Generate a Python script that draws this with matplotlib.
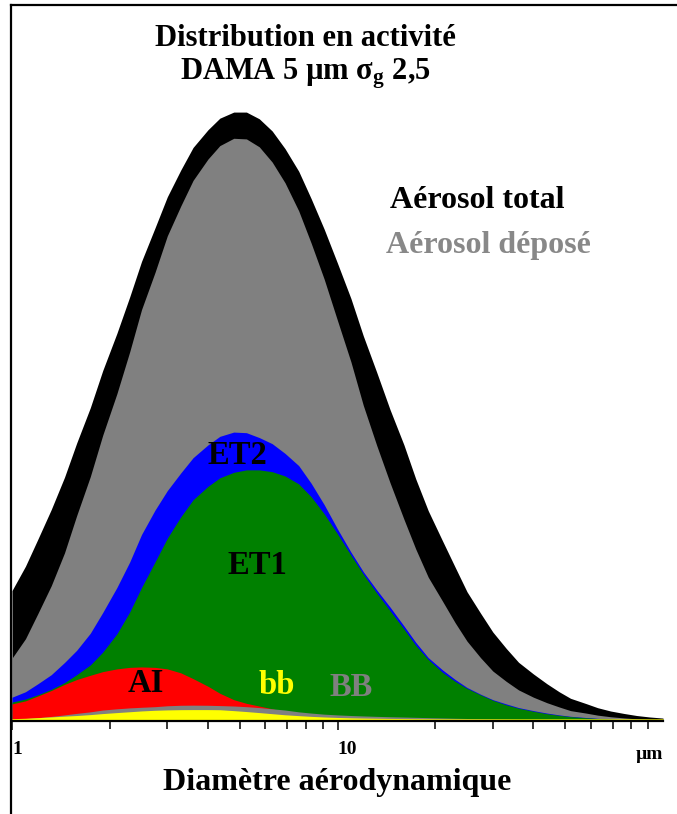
import matplotlib
matplotlib.use("Agg")
import matplotlib.pyplot as plt
from matplotlib.lines import Line2D
from matplotlib.ticker import FixedLocator, NullFormatter

plt.rcParams["font.family"] = ["Liberation Serif", "DejaVu Serif"]
plt.rcParams["font.weight"] = "bold"
plt.rcParams["mathtext.fontset"] = "custom"
plt.rcParams["mathtext.rm"] = "Liberation Serif:bold"
plt.rcParams["mathtext.bf"] = "Liberation Serif:bold"
plt.rcParams["mathtext.it"] = "Liberation Serif:bold"

# -------------------- données (pic aérosol total = 100) --------------------
diam = [1, 1.1, 1.2, 1.32, 1.45, 1.58, 1.74, 1.9, 2.1, 2.3, 2.5, 2.75, 3, 3.3, 3.6, 4,
        4.35, 4.8, 5.25, 5.75, 6.3, 6.9, 7.6, 8.3, 9.1, 10, 11, 12, 13.2, 14.5, 16, 17.4,
        19, 21, 23, 25, 27.5, 30, 33, 36, 40, 44, 48, 52, 58, 63, 69, 76, 83, 91, 100]

total = [21.4, 25.4, 29.8, 34.7, 40.0, 45.6, 51.4, 57.5, 63.6, 69.6, 75.4, 80.9, 86.0, 90.4,
         94.1, 97.0, 98.9, 99.9, 99.9, 98.8, 96.8, 93.9, 90.2, 85.7, 80.7, 75.1, 69.3, 63.2,
         57.2, 51.1, 45.3, 39.7, 34.5, 29.6, 25.2, 21.2, 17.7, 14.6, 11.9, 9.63, 7.71, 6.11,
         4.79, 3.72, 2.86, 2.18, 1.64, 1.23, 0.90, 0.66, 0.48]

depose = [10.3, 13.5, 17.6, 22.2, 27.6, 33.7, 40.1, 46.9, 53.7, 60.6, 67.5, 73.6, 79.6, 84.5,
          88.7, 92.2, 94.4, 95.6, 95.5, 94.2, 91.7, 88.3, 83.7, 78.4, 72.5, 65.7, 58.9, 51.8,
          45.2, 39.1, 33.1, 28.2, 23.6, 19.7, 16.1, 13.1, 10.4, 8.2, 6.5, 5.1, 3.9, 3.0,
          2.3, 1.7, 1.3, 0.96, 0.70, 0.50, 0.36, 0.25, 0.17]

et2 = [3.9, 4.8, 6.1, 7.6, 9.6, 11.6, 14.4, 17.8, 21.9, 26.1, 30.6, 34.6, 37.8, 40.7,
       43.2, 45.3, 46.7, 47.4, 47.3, 46.5, 45.5, 43.9, 41.9, 39.0, 35.5, 31.5, 27.7, 24.5,
       21.5, 18.7, 15.6, 12.9, 10.4, 8.4, 6.8, 5.5, 4.4, 3.5, 2.8, 2.2, 1.7, 1.3,
       1.0, 0.77, 0.57, 0.43, 0.31, 0.23, 0.16, 0.12, 0.08]

et1 = [3.1, 3.6, 4.3, 5.2, 6.3, 7.6, 9.2, 11.3, 14.3, 17.9, 21.9, 26.1, 30.0, 33.5,
       36.3, 38.5, 39.9, 40.8, 41.2, 41.2, 40.9, 40.2, 38.9, 36.8, 34.0, 30.7, 27.2, 24.1,
       21.0, 18.1, 15.1, 12.4, 10.1, 8.0, 6.5, 5.35, 4.3, 3.4, 2.65, 2.1, 1.6, 1.2,
       0.93, 0.72, 0.53, 0.40, 0.29, 0.21, 0.15, 0.11, 0.07]

ai = [2.8, 3.3, 4.1, 5.0, 6.0, 6.8, 7.5, 8.1, 8.55, 8.8, 8.87, 8.8, 8.55, 7.9,
      6.95, 5.7, 4.55, 3.5, 2.9, 2.45, 2.0, 1.5, 1.1, 0.8, 0.6, 0.45, 0.3, 0.2,
      0.12, 0.07, 0.04, 0.02, 0.01, 0, 0, 0, 0, 0, 0, 0, 0, 0,
      0, 0, 0, 0, 0, 0, 0, 0, 0]

BB = [0.3, 0.4, 0.55, 0.75, 1.0, 1.25, 1.5, 1.8, 2.0, 2.15, 2.25, 2.35, 2.5, 2.58,
      2.6, 2.58, 2.53, 2.46, 2.35, 2.2, 2.0, 1.8, 1.5, 1.3, 1.12, 1.0, 0.9, 0.83,
      0.76, 0.7, 0.65, 0.6, 0.55, 0.5, 0.45, 0.41, 0.37, 0.33, 0.29, 0.25, 0.21, 0.18,
      0.15, 0.13, 0.1, 0.08, 0.06, 0.05, 0.04, 0.03, 0.02]

bb = [0.38, 0.45, 0.55, 0.67, 0.8, 0.9, 1.05, 1.22, 1.38, 1.52, 1.65, 1.76, 1.82, 1.86,
      1.87, 1.87, 1.85, 1.7, 1.55, 1.38, 1.2, 1.02, 0.88, 0.76, 0.66, 0.58, 0.52, 0.48,
      0.45, 0.42, 0.4, 0.38, 0.37, 0.36, 0.36, 0.36, 0.36, 0.36, 0.36, 0.36, 0.36, 0.36,
      0.36, 0.36, 0.36, 0.36, 0.36, 0.36, 0.36, 0.36, 0.36]

couches = [
    (total, "#000000"),
    (depose, "#808080"),
    (et2, "#0000ff"),
    (et1, "#008000"),
    (ai, "#ff0000"),
    (BB, "#808080"),
    (bb, "#ffff00"),
]

# -------------------- figure --------------------
fig = plt.figure(figsize=(6.77, 8.14), dpi=100)
ax = fig.add_axes([12/677, 93/814, 651/677, 640/814])

for vals, col in couches:
    ax.fill_between(diam, 0, vals, color=col, lw=0)

ax.set_xscale("log")
ax.set_xlim(1, 100)
ax.set_ylim(0, 105)

for s in ("top", "right", "left"):
    ax.spines[s].set_visible(False)
ax.spines["bottom"].set_linewidth(1.6)
ax.set_yticks([])

ax.xaxis.set_major_locator(FixedLocator([1, 10]))
ax.xaxis.set_minor_locator(FixedLocator([2, 3, 4, 5, 6, 7, 8, 9,
                                         20, 30, 40, 50, 60, 70, 80, 90]))
ax.xaxis.set_minor_formatter(NullFormatter())
ax.set_xticklabels(["1", "10"], fontsize=14, fontweight="bold")
for lab in ax.get_xticklabels():
    lab.set_horizontalalignment("left")
ax.tick_params(axis="x", which="major", length=6.5, width=1.1, direction="out", pad=8)
ax.tick_params(axis="x", which="minor", length=5.8, width=1.1, direction="out")
ax.text(1.0, -0.0395, "µm", transform=ax.transAxes, fontsize=14,
        fontweight="bold", ha="right", va="top")

ax.set_xlabel("Diamètre aérodynamique", fontsize=23, fontweight="bold", labelpad=7)

# titres
fig.text(305/677, 1 - 38/814, "Distribution en activité", fontsize=22,
         fontweight="bold", ha="center", va="center")
fig.text(305/677, 1 - 74/814, r"DAMA 5 µm σ$_{\mathbf{g}}$ 2,5", fontsize=22,
         fontweight="bold", ha="center", va="center")

fig.text(390/677, 1 - 201/814, "Aérosol total", fontsize=23, fontweight="bold",
         ha="left", va="center", color="black")
fig.text(386/677, 1 - 245/814, "Aérosol déposé", fontsize=23, fontweight="bold",
         ha="left", va="center", color="#888888")

# étiquettes des régions
etiquettes = [("ET2", 237, 455, "black"), ("ET1", 257, 566, "black"),
              ("AI", 146, 684, "black"), ("bb", 277, 686, "#ffff00"),
              ("BB", 351, 688, "#808080")]
for txt, px, py, col in etiquettes:
    fig.text(px/677, 1 - py/814, txt, fontsize=23.5, fontweight="bold",
             ha="center", va="center", color=col)

# cadre (gauche et haut)
fig.add_artist(Line2D([11/677, 11/677], [0, 1 - 5/814], transform=fig.transFigure,
                      color="black", lw=1.6))
fig.add_artist(Line2D([11/677, 1], [1 - 5/814, 1 - 5/814], transform=fig.transFigure,
                      color="black", lw=1.6))

fig.savefig("out.png", dpi=100)
